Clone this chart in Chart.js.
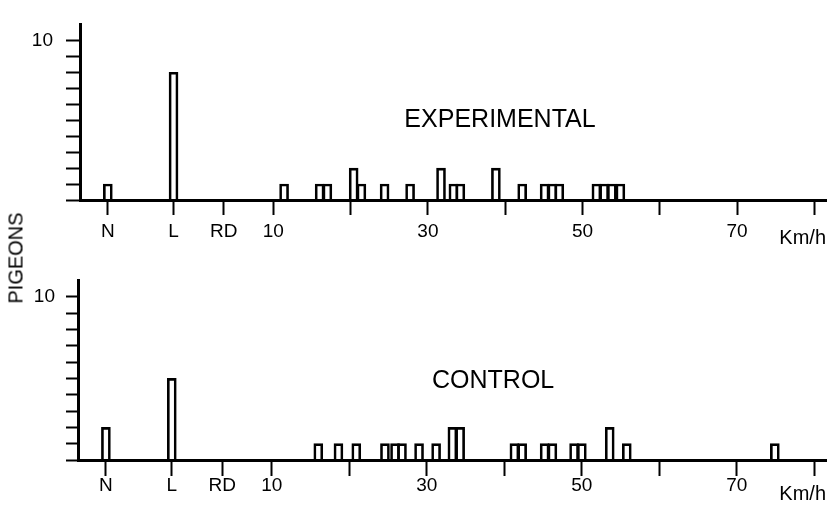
<!DOCTYPE html>
<html>
<head>
<meta charset="utf-8">
<script src="https://cdn.jsdelivr.net/npm/chart.js@4/dist/chart.umd.min.js"></script>
<style>
  body { margin: 0; background: #fff; }
  #wrap { position: relative; width: 836px; height: 508px; overflow: hidden; }
  canvas { position: absolute; left: 0; }
  #ylab {
    position: absolute; left: 16px; top: 258px;
    transform: translate(-50%, -50%) rotate(-90deg);
    font: 20px "Liberation Sans", Arial, sans-serif; color: #000; white-space: nowrap;
  }
</style>
</head>
<body>
<div id="wrap">
  <canvas id="top" width="836" height="260" style="top:0"></canvas>
  <canvas id="bottom" width="836" height="250" style="top:258px"></canvas>
  <div id="ylab">PIGEONS</div>
</div>
<script>
// non-speed categories on the left of the axis, placed on the km/h scale
var specialLabels = ['N', 'L', 'RD'];
var specialPos = [-11.4, -2.9, 3.6];
var speedTicks = [10, 20, 30, 40, 50, 60, 70, 80];
var speedTickLabels = ['10', '', '30', '', '50', '', '70', ''];
var yLabelled = [10];

// experimental group
var expSpecialCounts = [1, 8, 0];
var expSpeeds = [11.4, 16, 17, 20.4, 21.4, 24.4, 27.7, 31.7, 33.3, 34.2, 38.8, 42.2, 45.1, 46.1, 47, 51.8, 52.8, 53.8, 54.9];
var expCounts = [1, 1, 1, 2, 1, 1, 1, 2, 1, 1, 2, 1, 1, 1, 1, 1, 1, 1, 1];

// control group
var ctrlSpecialCounts = [2, 5, 0];
var ctrlSpeeds = [16, 18.6, 20.9, 24.6, 25.9, 26.8, 29, 31.2, 33.3, 34.3, 41.3, 42.3, 45.2, 46.2, 49, 50, 53.6, 55.8, 74.9];
var ctrlCounts = [1, 1, 1, 1, 1, 1, 1, 1, 2, 2, 1, 1, 1, 1, 1, 1, 2, 1, 1];

var xTickValues = specialPos.concat(speedTicks);
var xTickLabels = specialLabels.concat(speedTickLabels);
var FONT = '"Liberation Sans", Arial, sans-serif';

var panelLabel = {
    id: 'panelLabel',
    afterDraw: function (chart, args, opts) {
        var a = chart.chartArea, ctx = chart.ctx;
        ctx.save();
        ctx.fillStyle = '#000';
        ctx.font = '25px ' + FONT;
        ctx.textAlign = 'center';
        ctx.textBaseline = 'middle';
        ctx.fillText(opts.text, a.left + opts.fx * (a.right - a.left), a.top + opts.fy * (a.bottom - a.top));
        ctx.restore();
    }
};

function makePoints(specialCounts, speeds, counts) {
    var pts = [];
    specialPos.forEach(function (x, i) {
        if (specialCounts[i] > 0) pts.push({ x: x, y: specialCounts[i] });
    });
    speeds.forEach(function (x, i) {
        pts.push({ x: x, y: counts[i] });
    });
    return pts;
}

function makeChart(id, label, specialCounts, speeds, counts, lay) {
    var ctx = document.getElementById(id).getContext('2d');
    return new Chart(ctx, {
        type: 'bar',
        data: {
            datasets: [{
                data: makePoints(specialCounts, speeds, counts),
                backgroundColor: 'rgba(0,0,0,0)',
                borderColor: '#000',
                borderWidth: 2,
                barThickness: 9
            }]
        },
        plugins: [panelLabel],
        options: {
            responsive: false,
            animation: false,
            layout: { padding: { top: lay.padTop, right: 10, left: 0, bottom: 0 } },
            plugins: {
                legend: { display: false },
                tooltip: { enabled: false },
                panelLabel: { text: label, fx: lay.fx, fy: lay.fy }
            },
            scales: {
                x: {
                    type: 'linear',
                    min: -15,
                    max: 81.5,
                    offset: false,
                    afterFit: function (s) { s.height = lay.xHeight; },
                    afterBuildTicks: function (s) {
                        s.ticks = xTickValues.map(function (v) { return { value: v }; });
                    },
                    grid: {
                        offset: false,
                        drawOnChartArea: false,
                        drawTicks: true,
                        tickLength: lay.xTickLen,
                        tickColor: '#000',
                        tickWidth: 2
                    },
                    border: { display: true, color: '#000', width: 3 },
                    ticks: {
                        autoSkip: false,
                        maxRotation: 0,
                        padding: lay.xPad,
                        color: '#000',
                        font: { family: FONT, size: 19, lineHeight: 1 },
                        callback: function (v, i) { return xTickLabels[i]; }
                    },
                    title: {
                        display: true,
                        text: 'Km/h',
                        align: 'end',
                        color: '#000',
                        font: { family: FONT, size: 20, lineHeight: 1 },
                        padding: { top: 0, bottom: lay.titlePad }
                    }
                },
                y: {
                    min: 0,
                    max: 11,
                    afterFit: function (s) { s.width = lay.yWidth; },
                    afterBuildTicks: function (s) {
                        s.ticks = s.ticks.filter(function (t) { return t.value <= 10; });
                    },
                    grid: {
                        drawOnChartArea: false,
                        drawTicks: true,
                        tickLength: lay.yTickLen,
                        tickColor: '#000',
                        tickWidth: 2
                    },
                    border: { display: true, color: '#000', width: 3 },
                    ticks: {
                        stepSize: 1,
                        autoSkip: false,
                        padding: lay.yPad,
                        color: '#000',
                        font: { family: FONT, size: 19 },
                        callback: function (v) { return yLabelled.indexOf(v) >= 0 ? String(v) : ''; }
                    }
                }
            }
        }
    });
}

makeChart('top', 'EXPERIMENTAL', expSpecialCounts, expSpeeds, expCounts, {
    padTop: 10, xHeight: 60, yWidth: 80, xTickLen: 15, xPad: 7, titlePad: 12,
    yTickLen: 14, yPad: 13, fx: 0.563, fy: 0.547
});
makeChart('bottom', 'CONTROL', ctrlSpecialCounts, ctrlSpeeds, ctrlCounts, {
    padTop: 13, xHeight: 48, yWidth: 78, xTickLen: 16, xPad: 0, titlePad: 4,
    yTickLen: 12, yPad: 11, fx: 0.555, fy: 0.56
});
</script>
</body>
</html>
